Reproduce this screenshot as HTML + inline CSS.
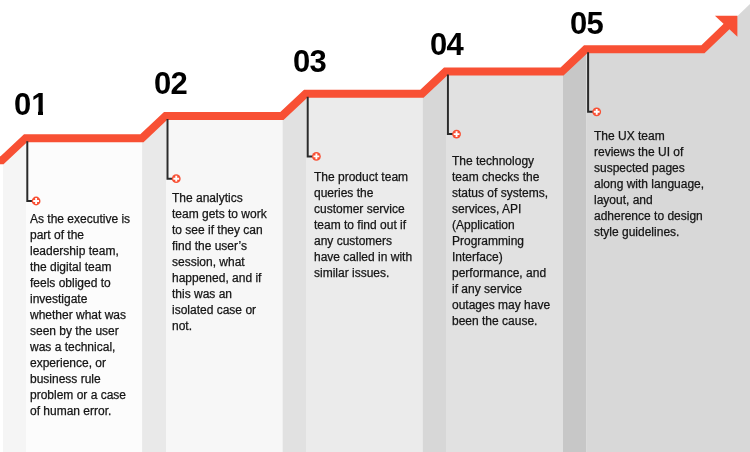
<!DOCTYPE html>
<html><head><meta charset="utf-8"><style>
html,body{margin:0;padding:0;background:#fff;}
#w{position:relative;width:750px;height:452px;overflow:hidden;background:#fff;}
svg{position:absolute;left:0;top:0;}
.n{position:absolute;font-family:"Liberation Sans",sans-serif;font-weight:bold;font-size:31px;line-height:1;color:#000;white-space:nowrap;-webkit-font-smoothing:antialiased;will-change:transform;}
.m{position:absolute;background:#fff;}
.t{position:absolute;font-family:"Liberation Sans",sans-serif;font-size:12px;line-height:16px;color:#141414;-webkit-text-stroke:0.25px #141414;white-space:nowrap;-webkit-font-smoothing:antialiased;will-change:transform;}
</style></head><body><div id="w">
<svg width="750" height="452" viewBox="0 0 750 452">
<polygon points="3.0,160.35 26.0,138.15 26.0,452 3.0,452" fill="#f5f5f5"/>
<polygon points="26.0,138.15 141.95,138.15 142.1,138.15 142.1,452 26.0,452" fill="#fcfcfc"/>
<polygon points="142.1,138.15 166.0,115.95 166.0,452 142.1,452" fill="#e9e9e9"/>
<polygon points="166.0,115.95 281.95,115.95 282.6,115.95 282.6,452 166.0,452" fill="#f7f7f7"/>
<polygon points="282.6,115.95 306.0,93.75 306.0,452 282.6,452" fill="#e1e1e1"/>
<polygon points="306.0,93.75 421.95,93.75 422.6,93.75 422.6,452 306.0,452" fill="#ebebeb"/>
<polygon points="422.6,93.75 446.0,71.55000000000001 446.0,452 422.6,452" fill="#d7d7d7"/>
<polygon points="446.0,71.55000000000001 561.95,71.55000000000001 563.0,71.55000000000001 563.0,452 446.0,452" fill="#e1e1e1"/>
<polygon points="563.0,71.55000000000001 586.1,49.35000000000001 586.1,452 563.0,452" fill="#c7c7c7"/>
<polygon points="586.1,49.35000000000001 702.85,49.35000000000001 750,3.99 750,452 586.1,452" fill="#d8d8d8"/>
<polyline points="-30.00,160.35 1.95,160.35 25.60,138.15 141.95,138.15 165.60,115.95 281.95,115.95 305.60,93.75 421.95,93.75 445.60,71.55 561.95,71.55 585.60,49.35 702.85,49.35 727.50,25.64" fill="none" stroke="#f85034" stroke-width="8" stroke-linejoin="miter"/>
<polygon points="714.9,15.75 737.4,15.75 737.4,36.7" fill="#f85034"/>
<path d="M27.30,141.15 V201.00 H33.10" fill="none" stroke="#2a2a2a" stroke-width="2"/>
<circle cx="36.10" cy="201.00" r="4.4" fill="#f85034"/>
<path d="M33.20,201.00 H39.00 M36.10,198.10 V203.90" stroke="#fff" stroke-width="1.9"/>
<path d="M167.50,118.95 V178.70 H173.25" fill="none" stroke="#2a2a2a" stroke-width="2"/>
<circle cx="176.25" cy="178.70" r="4.4" fill="#f85034"/>
<path d="M173.35,178.70 H179.15 M176.25,175.80 V181.60" stroke="#fff" stroke-width="1.9"/>
<path d="M307.70,96.75 V156.40 H313.40" fill="none" stroke="#2a2a2a" stroke-width="2"/>
<circle cx="316.40" cy="156.40" r="4.4" fill="#f85034"/>
<path d="M313.50,156.40 H319.30 M316.40,153.50 V159.30" stroke="#fff" stroke-width="1.9"/>
<path d="M447.90,74.55 V134.10 H453.55" fill="none" stroke="#2a2a2a" stroke-width="2"/>
<circle cx="456.55" cy="134.10" r="4.4" fill="#f85034"/>
<path d="M453.65,134.10 H459.45 M456.55,131.20 V137.00" stroke="#fff" stroke-width="1.9"/>
<path d="M588.10,52.35 V111.80 H593.70" fill="none" stroke="#2a2a2a" stroke-width="2"/>
<circle cx="596.70" cy="111.80" r="4.4" fill="#f85034"/>
<path d="M593.80,111.80 H599.60 M596.70,108.90 V114.70" stroke="#fff" stroke-width="1.9"/>
</svg>
<div class="n" style="left:13.9px;top:89.1px;">01</div>
<div class="m" style="left:32px;top:110px;width:6px;height:6px"></div><div class="m" style="left:43px;top:110px;width:6px;height:6px"></div>
<div class="t" style="left:29.8px;top:210.8px">As the executive is<br>part of the<br>leadership team,<br>the digital team<br>feels obliged to<br>investigate<br>whether what was<br>seen by the user<br>was a technical,<br>experience, or<br>business rule<br>problem or a case<br>of human error.</div>
<div class="n" style="left:153.9px;top:68.2px;letter-spacing:-0.8px;">02</div>
<div class="t" style="left:171.8px;top:189.6px">The analytics<br>team gets to work<br>to see if they can<br>find the user’s<br>session, what<br>happened, and if<br>this was an<br>isolated case or<br>not.</div>
<div class="n" style="left:292.8px;top:46.2px;letter-spacing:-0.8px;">03</div>
<div class="t" style="left:313.7px;top:168.6px">The product team<br>queries the<br>customer service<br>team to find out if<br>any customers<br>have called in with<br>similar issues.</div>
<div class="n" style="left:430.1px;top:29.1px;letter-spacing:-0.8px;">04</div>
<div class="t" style="left:451.8px;top:152.6px">The technology<br>team checks the<br>status of systems,<br>services, API<br>(Application<br>Programming<br>Interface)<br>performance, and<br>if any service<br>outages may have<br>been the cause.</div>
<div class="n" style="left:570.1px;top:8.2px;letter-spacing:-0.8px;">05</div>
<div class="t" style="left:593.8px;top:127.7px">The UX team<br>reviews the UI of<br>suspected pages<br>along with language,<br>layout, and<br>adherence to design<br>style guidelines.</div>
</div></body></html>
